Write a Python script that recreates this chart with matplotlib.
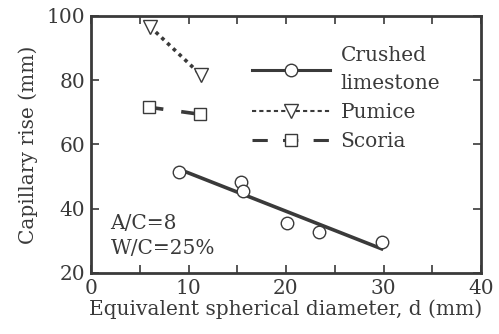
import numpy as np
import matplotlib
matplotlib.use("Agg")
import matplotlib.pyplot as plt
from matplotlib.ticker import MultipleLocator
from matplotlib.lines import Line2D

plt.rcParams['font.family'] = ['DejaVu Serif']

# Data
lime_x = [9.0, 15.35, 15.55, 20.07, 23.4, 29.8]
lime_y = [51.5, 48.4, 45.5, 35.7, 32.8, 29.6]
pumice_x = [6.05, 11.3]
pumice_y = [96.7, 81.6]
scoria_x = [5.95, 11.2]
scoria_y = [71.6, 69.4]

xticks = [0, 10, 20, 30, 40]
yticks = [20, 40, 60, 80, 100]

col = '#3a3a3a'
fs = 14.5
fig = plt.figure(figsize=(4.99, 3.34), dpi=100)
ax = fig.add_axes([91/499, 1-273/334, (481-91)/499, (273-16)/334])

# regression line for crushed limestone
coef = np.polyfit(lime_x, lime_y, 1)
fx = np.array([min(lime_x), max(lime_x)])
ax.plot(fx, np.polyval(coef, fx), color=col, lw=2.6, zorder=2)
ax.plot(lime_x, lime_y, 'o', ms=9, mfc='white', mec=col, mew=1.0, zorder=3)

ax.plot(pumice_x, pumice_y, color=col, lw=2.6, ls=(0, (1, 1.2)), zorder=2)
ax.plot(pumice_x, pumice_y, 'v', ms=10, mfc='white', mec=col, mew=1.0, zorder=3)

ax.plot(scoria_x, scoria_y, color=col, lw=2.6, ls=(0, (4, 5)), zorder=2)
ax.plot(scoria_x, scoria_y, 's', ms=9, mfc='white', mec=col, mew=1.0, zorder=3)

# legend proxies
h1 = Line2D([], [], color=col, lw=2.2, marker='o', ms=9, mfc='white', mec=col, mew=1.0)
h2 = Line2D([], [], color=col, lw=1.5, ls=(0, (2, 1.5)), marker='v', ms=10, mfc='white', mec=col, mew=1.0)
h3 = Line2D([], [], color=col, lw=2.2, ls=(0, (5, 5)), marker='s', ms=9, mfc='white', mec=col, mew=1.0)
leg = ax.legend([h1, h2, h3], ['Crushed\nlimestone', 'Pumice', 'Scoria'],
                loc='upper left', bbox_to_anchor=(0.392, 0.915), frameon=False,
                fontsize=fs, handlelength=3.9, handletextpad=0.5,
                labelspacing=0.5, borderaxespad=0, labelcolor=col)
for t in leg.get_texts():
    t.set_linespacing(1.6)

ax.text(2.0, 31.5, 'A/C=8\nW/C=25%', fontsize=fs, color=col, va='center', ha='left',
        linespacing=1.45)

ax.set_xlim(0, 40)
ax.set_ylim(20, 100)
ax.set_xticks(xticks)
ax.set_yticks(yticks)
ax.xaxis.set_minor_locator(MultipleLocator(5))
ax.tick_params(which='both', direction='in', top=True, right=True, colors=col,
               labelsize=fs, width=1.2)
ax.tick_params(which='major', length=6, pad=4)
ax.tick_params(which='minor', length=6)
for s in ax.spines.values():
    s.set_linewidth(2.0)
    s.set_color(col)

ax.set_xlabel('Equivalent spherical diameter, d (mm)', fontsize=fs, color=col, labelpad=1)
ax.set_ylabel('Capillary rise (mm)', fontsize=fs, color=col, labelpad=6)

fig.savefig('out.png', dpi=100)
